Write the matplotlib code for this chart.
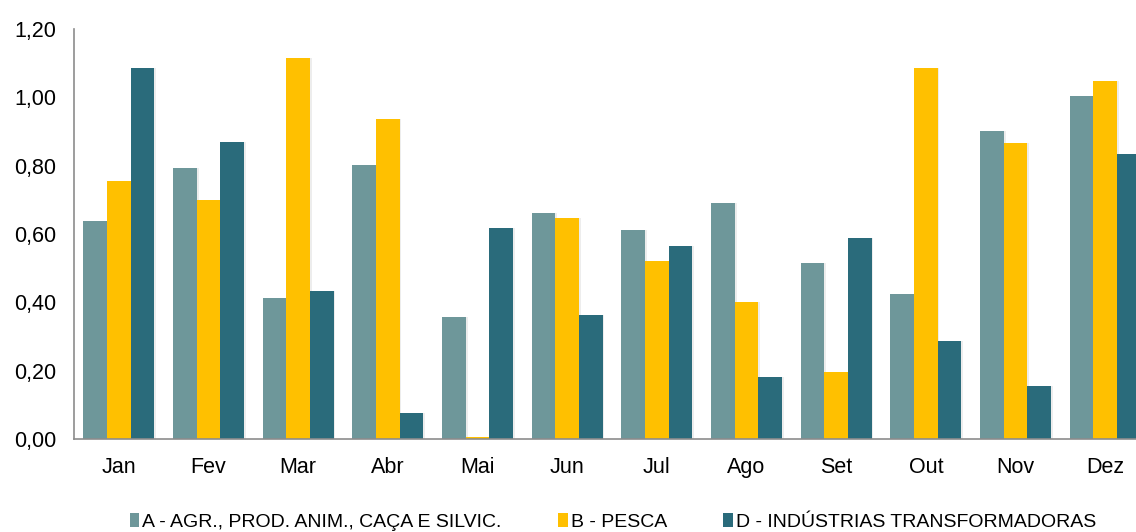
import matplotlib
matplotlib.use("Agg")
import matplotlib.pyplot as plt
import numpy as np
from matplotlib.ticker import FuncFormatter
from matplotlib.patches import Patch

plt.rcParams['font.family'] = ['Liberation Sans', 'DejaVu Sans']

months = ["Jan", "Fev", "Mar", "Abr", "Mai", "Jun", "Jul", "Ago", "Set", "Out", "Nov", "Dez"]
serie_a = [0.638, 0.793, 0.413, 0.802, 0.357, 0.661, 0.612, 0.690, 0.515, 0.424, 0.901, 1.004]
serie_b = [0.755, 0.700, 1.115, 0.936, 0.006, 0.647, 0.521, 0.400, 0.196, 1.086, 0.866, 1.048]
serie_d = [1.086, 0.869, 0.433, 0.076, 0.617, 0.363, 0.565, 0.181, 0.588, 0.287, 0.155, 0.834]
labels = ["A - AGR., PROD. ANIM., CAÇA E SILVIC.", "B - PESCA", "D - INDÚSTRIAS TRANSFORMADORAS"]
colors = ["#6E979A", "#FFC000", "#2A6B7B"]

fig = plt.figure(figsize=(11.36, 5.32), dpi=100)
ax = fig.add_axes([74/1136, 93/532, 1076/1136, 410/532])

x = np.arange(len(months))
w = 0.263
for i, (vals, c) in enumerate(zip([serie_a, serie_b, serie_d], colors)):
    pos = x + (i - 1) * w
    # subtle shadow
    ax.bar(pos + 0.02, vals, width=w, color="#000000", alpha=0.07, zorder=1)
    ax.bar(pos, vals, width=w, color=c, zorder=2)

ax.set_xlim(-0.5, 11.5)
ax.set_ylim(0, 1.2)
ax.set_yticks(np.arange(0, 1.21, 0.2))
ax.yaxis.set_major_formatter(FuncFormatter(lambda v, p: f"{v:.2f}".replace(".", ",")))
ax.set_xticks(x)
ax.set_xticklabels(months)
ax.tick_params(axis='both', length=0, labelsize=15.5, colors="#000000")
ax.tick_params(axis='x', pad=13)
ax.tick_params(axis='y', pad=13)
for s in ["top", "right"]:
    ax.spines[s].set_visible(False)
for s in ["left", "bottom"]:
    ax.spines[s].set_color("#8C8C8C")
    ax.spines[s].set_linewidth(1.2)

handles = [Patch(facecolor=c, edgecolor='none') for c in colors]
fig.legend(handles, labels, loc="center", bbox_to_anchor=(613/1136, 1 - 522/532),
           ncol=3, frameon=False, fontsize=14, handlelength=0.5, handleheight=0.75,
           handletextpad=0.15, columnspacing=2.9, borderaxespad=0)

fig.savefig("out.png", dpi=100)
